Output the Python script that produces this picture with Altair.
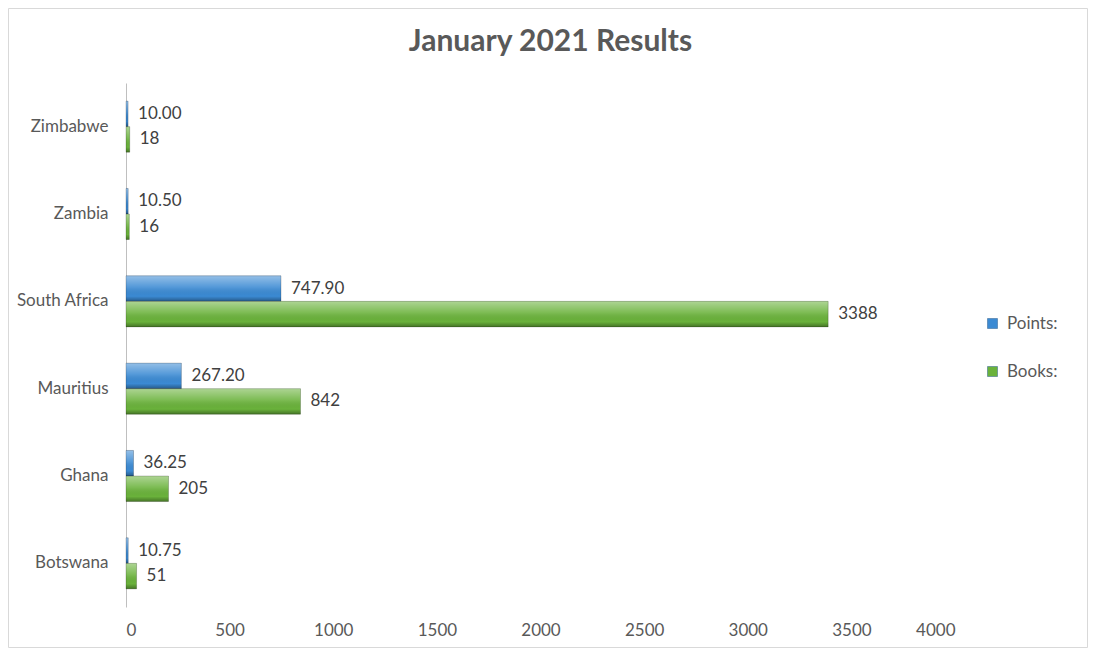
import altair as alt
import pandas as pd

title_text = "January 2021 Results"
countries = ["Zimbabwe", "Zambia", "South Africa", "Mauritius", "Ghana", "Botswana"]
points = [10.00, 10.50, 747.90, 267.20, 36.25, 10.75]
books = [18, 16, 3388, 842, 205, 51]
series_names = ["Points:", "Books:"]
series_colors = ["#3b8ad3", "#6ab23b"]
x_ticks = [0, 500, 1000, 1500, 2000, 2500, 3000, 3500, 4000]

rows = []
for c, p, b in zip(countries, points, books):
    rows.append({"country": c, "series": "Points:", "value": p, "label": f"{p:.2f}"})
    rows.append({"country": c, "series": "Books:", "value": b, "label": f"{b:d}"})
df = pd.DataFrame(rows)

FONT = "Lato"
W, H = 829, 524
PAD = {"left": 118, "top": 75, "right": 133, "bottom": 41}

y_enc = alt.Y("country:N", sort=countries, title=None,
              scale=alt.Scale(paddingInner=0.415, paddingOuter=0.2075),
              axis=alt.Axis(ticks=False, domainColor="#bfbfbf", labelFontSize=17,
                            labelColor="#595959", labelFont=FONT, labelPadding=18))
yoff = alt.YOffset("series:N", sort=series_names, scale=alt.Scale(paddingInner=0, paddingOuter=0))
x_enc = alt.X("value:Q", title=None,
              scale=alt.Scale(domain=[0, 4000], nice=False),
              axis=alt.Axis(values=x_ticks, grid=False, domain=False, ticks=False,
                            labelFontSize=17, labelColor="#595959", labelFont=FONT,
                            labelPadding=15, format="d"))

base = alt.Chart(df)

bars = base.mark_bar(cornerRadius=0).encode(
    y=y_enc, yOffset=yoff, x=x_enc,
    color=alt.Color("series:N", sort=series_names,
                    scale=alt.Scale(domain=series_names, range=series_colors),
                    legend=alt.Legend(title=None, orient="none", legendX=858, legendY=232,
                                      symbolType="square", symbolSize=100,
                                      symbolStrokeColor="#2d5f8f", symbolStrokeWidth=0.5,
                                      labelFontSize=17, labelColor="#595959",
                                      labelFont=FONT, rowPadding=30, labelOffset=6)),
)

shine = base.mark_bar(
    fill=alt.Gradient(
        gradient="linear", x1=0, x2=0, y1=0, y2=1,
        stops=[alt.GradientStop(color="rgba(255,255,255,0.45)", offset=0),
               alt.GradientStop(color="rgba(255,255,255,0.12)", offset=0.45),
               alt.GradientStop(color="rgba(0,0,0,0.0)", offset=0.8),
               alt.GradientStop(color="rgba(0,0,0,0.35)", offset=1)]),
    stroke="rgba(0,0,0,0.25)", strokeWidth=0.8,
).encode(y=alt.Y("country:N", sort=countries), yOffset=yoff, x="value:Q")

labels = base.mark_text(align="left", baseline="middle", dx=10, fontSize=17,
                        color="#404040", font=FONT).encode(
    y=alt.Y("country:N", sort=countries), yOffset=yoff, x="value:Q", text="label:N")

title = alt.Chart(pd.DataFrame({"t": [title_text]})).mark_text(
    fontSize=30, font=FONT, fontWeight="bold", color="#595959",
    align="center", baseline="alphabetic").encode(
    x=alt.value(W / 2 + 10), y=alt.value(-32), text="t:N")

border = alt.Chart(pd.DataFrame({"k": [0]})).mark_rect(
    fill=None, stroke="#d9d9d9", strokeWidth=1).encode(
    x=alt.value(-PAD["left"] + 0.5), x2=alt.value(W + PAD["right"] - 0.5),
    y=alt.value(-PAD["top"] + 0.5), y2=alt.value(H + PAD["bottom"] - 0.5))

chart = alt.layer(bars, shine, labels, title, border).properties(
    width=W, height=H,
    autosize=alt.AutoSizeParams(type="none"),
    padding=PAD,
).configure_view(stroke=None)

chart.save("out.html", embed_options={"renderer": "svg", "actions": False})
